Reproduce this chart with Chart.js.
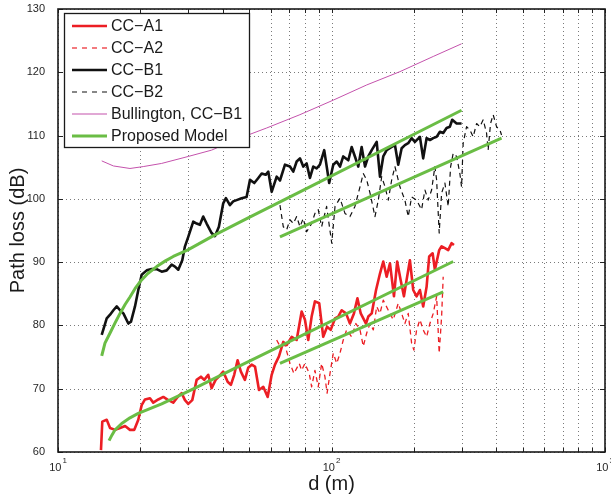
<!DOCTYPE html>
<html><head><meta charset="utf-8">
<script src="https://cdn.jsdelivr.net/npm/chart.js@4.4.0/dist/chart.umd.min.js"></script>
<style>html,body{margin:0;padding:0;background:#fff;overflow:hidden}canvas{display:block}</style>
</head><body>
<canvas id="c" width="611" height="497"></canvas>
<script>
// ---- tick definitions ----
const xTickValues = [10,20,30,40,50,60,70,80,90,100,200,300,400,500,600,700,800,900,1000];
const xMajorLabels = [[10,'10','1'],[100,'10','2'],[1000,'10','3']];
const yTickValues = [60,70,80,90,100,110,120,130];
const xTitle = 'd (m)';
const yTitle = 'Path loss (dB)';
const legendLabels = ['CC\u2212A1','CC\u2212A2','CC\u2212B1','CC\u2212B2','Bullington, CC\u2212B1','Proposed Model'];

// ---- measured series (distance m, path loss dB) ----
const a1_d = [14.36,14.52,15.07,15.50,16.17,16.86,17.59,18.33,19.01,19.66,20.23,20.80,21.69,22.30,23.26,24.27,25.31,26.39,27.39,28.32,29.12,29.94,30.97,32.13,33.31,34.25,35.42,36.45,37.70,38.75,40.19,41.71,42.87,44.08,45.35,46.63,48.23,49.59,51.07,52.52,54.31,56.31,58.43,60.43,62.13,64.25,66.63,68.56,71.50,74.58,77.77,79.97,82.22,84.60,86.99,90.18,93.27,96.37,99.32,103.0,105.9,108.9,113.0,116.8,120.8,124.4,127.9,133.7,136.3,140.3,145.5,150.4,154.6,159.1,163.6,169.2,173.8,178.9,184.0,188.2,193.5,199.0,204.7,210.5,216.4,222.7,227.6,234.3,238.8,247.6,252.7,259.8,267.1,274.9,280.3];
const a1_pl = [60.3,64.8,65.1,63.8,63.5,63.8,64.1,63.5,63.5,65.1,67.4,68.3,68.5,67.8,68.3,68.7,68.2,67.8,68.7,69.3,68.2,67.6,68.2,71.4,71.9,71.4,72.2,70.1,71.4,71.9,72.7,71.1,70.6,72.2,74.5,72.7,71.4,73.3,73.8,73.5,69.8,70.3,68.7,72.2,73.8,75.1,77.4,76.9,78.2,77.7,82.2,80.9,77.7,81.4,83.8,83.5,78.2,79.8,79.3,81.1,81.4,82.4,81.9,80.3,81.9,84.3,81.9,80.3,81.4,81.9,85.6,88.2,90.1,87.7,89.8,84.6,90.1,87.2,84.6,87.2,90.3,85.6,84.6,85.6,83.0,86.1,90.9,91.4,88.8,91.9,92.5,92.2,91.9,93.0,92.7];

const a2_d = [63.03,64.80,67.59,70.49,72.91,76.22,77.77,79.97,82.90,84.60,86.99,89.44,92.02,94.61,96.37,98.74,101.5,104.5,107.4,110.4,113.6,118.5,122.8,127.1,130.7,134.5,138.3,142.2,146.3,150.4,154.6,161.3,168.2,175.4,180.5,185.5,190.8,196.3,200.1,204.7,210.5,216.4,222.7,229.0,235.5,242.3,247.6,252.7,256.1];
const a2_pl = [77.7,76.7,76.9,74.0,72.4,74.0,72.9,74.0,72.4,70.3,72.9,70.3,74.0,71.9,69.3,72.4,75.6,74.0,75.6,77.7,79.3,78.2,80.3,79.3,76.7,78.8,80.3,79.3,83.0,81.9,84.0,82.4,80.9,83.5,81.9,80.3,81.9,77.2,76.1,79.3,80.9,79.3,78.2,80.3,81.9,84.6,75.6,81.4,87.7];

const b1_d = [14.45,15.07,15.50,15.94,16.40,16.86,17.34,18.08,18.49,19.12,19.66,20.23,21.10,22.00,22.95,23.94,24.97,26.04,26.77,27.53,28.47,29.12,29.94,31.23,32.13,33.03,33.96,34.95,36.45,37.48,38.75,40.19,41.11,42.51,43.71,44.98,46.91,48.92,50.35,52.21,54.00,55.56,57.46,58.74,60.43,63.03,64.80,67.59,70.49,72.48,74.58,76.67,78.83,81.12,83.40,85.75,88.24,90.71,94.06,98.08,101.5,104.5,107.4,110.4,115.2,118.5,121.8,125.3,128.9,132.6,136.3,140.3,146.3,150.4,154.6,159.1,166.0,170.6,175.4,180.5,185.5,190.8,196.3,201.8,210.5,216.4,222.7,229.0,235.5,242.3,249.1,256.1,263.5,271.0,276.3,286.7,298.9];
const b1_pl = [78.5,81.1,81.7,82.4,83.0,82.4,81.9,80.3,80.6,83.0,85.6,88.0,88.7,88.9,88.9,88.5,88.7,89.6,89.3,88.8,90.3,92.5,94.0,96.4,96.1,95.9,97.2,96.1,94.6,94.1,95.6,99.3,100.1,99.0,99.6,99.8,100.1,100.3,103.0,102.5,103.3,104.0,103.8,104.3,101.1,103.5,102.9,105.4,105.1,104.3,105.9,106.4,105.1,105.6,103.3,105.1,104.8,105.4,107.7,102.5,105.4,105.9,105.1,106.7,106.1,108.2,106.7,105.1,108.2,105.1,106.7,107.7,109.0,103.5,106.7,107.7,108.2,108.5,105.4,108.0,108.5,108.8,109.6,109.0,109.8,106.4,109.6,109.3,109.6,109.8,110.6,110.4,111.2,111.4,112.5,111.9,111.9];

const b2_d = [64.80,66.63,68.56,70.49,72.48,74.58,76.67,78.83,81.12,84.60,86.99,89.44,92.02,95.97,100.2,103.0,107.4,112.0,116.8,121.8,127.1,130.7,134.5,138.3,144.2,148.3,152.6,156.9,161.3,166.0,170.6,177.9,185.5,190.8,196.3,204.7,213.5,219.6,225.7,232.3,238.8,242.3,247.6,252.7,259.8,267.1,272.6,278.6,286.7,294.7,298.9,303.0,311.8,320.6,329.6,339.2,348.7,358.5,368.9,373.9,381.5,390.0,401.3,412.6,418.5];
const b2_pl = [99.0,95.6,95.1,96.7,96.1,97.2,95.6,96.9,94.8,96.1,97.7,98.3,95.6,98.8,93.0,98.8,100.1,97.7,97.2,98.8,101.9,104.0,103.0,100.9,97.2,99.8,103.5,101.9,99.8,103.0,105.1,101.9,99.8,97.2,100.3,99.8,98.3,101.4,99.8,101.4,105.1,103.0,94.6,100.9,102.5,98.8,105.1,107.2,106.7,104.0,101.9,108.8,111.4,110.9,109.8,111.9,111.4,112.5,110.4,107.7,111.9,113.3,111.4,110.9,110.1];

// ---- Bullington prediction for CC-B1 ----
const bull_d = [14.45,15.94,18.33,20.50,23.94,29.94,36.45,43.71,57.95,76.67,101.5,134.5,177.9,235.5,298.9];
const bull_pl = [106.0,105.2,104.8,105.1,105.6,106.7,107.7,109.2,111.2,113.3,115.6,118.0,120.1,122.5,124.5];

// ---- proposed model curves ----
const mA1_d = [15.37,15.76,16.17,17.10,18.33,19.66,23.94,31.68,45.59,278.6];
const mA1_pl = [61.8,62.7,63.5,64.5,65.4,66.1,67.6,70.1,73.5,90.1];
const mA2_d = [64.80,256.1];
const mA2_pl = [74.0,85.3];
const mB1_d = [14.45,14.85,15.50,16.17,16.86,17.59,18.33,19.12,19.94,21.30,22.95,24.70,26.39,29.73,37.48,49.59,76.67,298.9];
const mB1_pl = [75.2,77.2,78.8,80.4,81.9,83.3,84.5,85.8,86.9,88.2,89.3,90.2,90.9,91.9,94.3,97.0,101.1,114.0];
const mB2_d = [64.80,418.5];
const mB2_pl = [94.0,109.6];

// ---- styles ----
const RED = 'rgb(236,30,36)';
const GREEN = 'rgb(106,189,69)';
const PINK = 'rgb(196,82,172)';
const BLACK = '#111111';
const FONT = '"Liberation Sans", Arial, Helvetica, sans-serif';

function pts(d, p){ const n=Math.min(d.length,p.length); const out=[]; for(let i=0;i<n;i++) out.push({x:d[i],y:p[i]}); return out; }
function ds(label, d, p, color, width, dash, order){
  return {label, data: pts(d,p), borderColor: color, backgroundColor: color, borderWidth: width,
    borderDash: dash || [], pointRadius: 0, showLine: true, tension: 0, fill: false, order,
    borderJoinStyle: 'round', borderCapStyle: 'butt'};
}

const datasets = [
  ds('CC\u2212A1', a1_d, a1_pl, RED, 2.6, null, 5),
  ds('CC\u2212A2', a2_d, a2_pl, RED, 1.3, [5,4], 4),
  ds('CC\u2212B1', b1_d, b1_pl, BLACK, 2.6, null, 6),
  ds('CC\u2212B2', b2_d, b2_pl, BLACK, 1.2, [5,4], 7),
  ds('Bullington, CC\u2212B1', bull_d, bull_pl, PINK, 1, null, 3),
  ds('Proposed Model', mA1_d, mA1_pl, GREEN, 3, null, 1),
  ds('Proposed Model A2', mA2_d, mA2_pl, GREEN, 3, null, 1),
  ds('Proposed Model B1', mB1_d, mB1_pl, GREEN, 3, null, 1),
  ds('Proposed Model B2', mB2_d, mB2_pl, GREEN, 3, null, 1)
];

const legendItems = [
  {color: RED, width: 2.6, dash: []},
  {color: 'rgb(240,80,86)', width: 1.5, dash: [5,5]},
  {color: BLACK, width: 2.6, dash: []},
  {color: BLACK, width: 1.2, dash: [5,5]},
  {color: PINK, width: 1.2, dash: []},
  {color: GREEN, width: 3, dash: []}
];

const gridPlugin = {
  id: 'dottedGrid',
  beforeDatasetsDraw(chart){
    const {ctx, chartArea: a, scales: {x, y}} = chart;
    ctx.save();
    ctx.strokeStyle = '#7a7a7a'; ctx.lineWidth = 1; ctx.setLineDash([1, 3]);
    xTickValues.forEach(v => {
      const px = Math.round(x.getPixelForValue(v)) + 0.5;
      ctx.beginPath(); ctx.moveTo(px, a.bottom); ctx.lineTo(px, a.top); ctx.stroke();
    });
    yTickValues.forEach(v => {
      const py = Math.round(y.getPixelForValue(v)) + 0.5;
      ctx.beginPath(); ctx.moveTo(a.left, py); ctx.lineTo(a.right, py); ctx.stroke();
    });
    ctx.restore();
  }
};

const framePlugin = {
  id: 'frame',
  afterDraw(chart){
    const {ctx, chartArea: a, scales: {x, y}} = chart;
    ctx.save();
    // inward ticks
    ctx.strokeStyle = '#222'; ctx.lineWidth = 1;
    xTickValues.forEach(v => {
      const px = Math.round(x.getPixelForValue(v)) + 0.5;
      ctx.beginPath();
      ctx.moveTo(px, a.bottom); ctx.lineTo(px, a.bottom - 4);
      ctx.moveTo(px, a.top); ctx.lineTo(px, a.top + 4);
      ctx.stroke();
    });
    yTickValues.forEach(v => {
      const py = Math.round(y.getPixelForValue(v)) + 0.5;
      ctx.beginPath();
      ctx.moveTo(a.left, py); ctx.lineTo(a.left + 5, py);
      ctx.moveTo(a.right, py); ctx.lineTo(a.right - 5, py);
      ctx.stroke();
    });
    // box
    ctx.lineWidth = 1.6; ctx.strokeStyle = '#1a1a1a';
    ctx.strokeRect(a.left, a.top, a.right - a.left, a.bottom - a.top);
    // x labels with superscripts
    ctx.fillStyle = '#262626';
    ctx.textBaseline = 'alphabetic';
    xMajorLabels.forEach(([v, base, sup]) => {
      const px = x.getPixelForValue(v);
      ctx.font = '11px ' + FONT;
      const wb = ctx.measureText(base).width;
      ctx.font = '8px ' + FONT;
      const ws = ctx.measureText(sup).width;
      const x0 = px - (wb + ws + 1) / 2;
      ctx.font = '11px ' + FONT;
      ctx.textAlign = 'left';
      ctx.fillText(base, x0, a.bottom + 19);
      ctx.font = '8px ' + FONT;
      ctx.fillText(sup, x0 + wb + 1, a.bottom + 11);
    });
    // axis titles
    ctx.fillStyle = '#1a1a1a';
    ctx.font = '20px ' + FONT;
    ctx.textAlign = 'center';
    ctx.fillText(xTitle, (a.left + a.right) / 2, 490);
    ctx.save();
    ctx.translate(23.5, (a.top + a.bottom) / 2);
    ctx.rotate(-Math.PI / 2);
    ctx.fillText(yTitle, 0, 0);
    ctx.restore();
    // legend
    const lx = 64.5, ly = 13.5, lw = 185, lh = 134;
    ctx.fillStyle = '#fff';
    ctx.fillRect(lx, ly, lw, lh);
    ctx.lineWidth = 1.3; ctx.strokeStyle = '#1a1a1a';
    ctx.strokeRect(lx, ly, lw, lh);
    ctx.font = '16px ' + FONT;
    ctx.textAlign = 'left';
    ctx.textBaseline = 'middle';
    legendLabels.forEach((t, i) => {
      const rowY = 26 + i * 22;
      const it = legendItems[i];
      ctx.save();
      ctx.strokeStyle = it.color; ctx.lineWidth = it.width; ctx.setLineDash(it.dash);
      ctx.beginPath(); ctx.moveTo(72, rowY); ctx.lineTo(107, rowY); ctx.stroke();
      ctx.restore();
      ctx.fillStyle = '#1a1a1a';
      ctx.fillText(t, 111, rowY + 1);
    });
    ctx.restore();
  }
};

new Chart(document.getElementById('c'), {
  type: 'scatter',
  data: { datasets },
  options: {
    responsive: false,
    animation: false,
    devicePixelRatio: 1,
    layout: { padding: { top: 9, right: 6, left: 0, bottom: 0 } },
    plugins: { legend: { display: false }, tooltip: { enabled: false } },
    elements: { point: { radius: 0 } },
    scales: {
      x: {
        type: 'logarithmic', min: 10, max: 1000,
        afterBuildTicks: s => { s.ticks = xTickValues.map(v => ({ value: v })); },
        afterFit: s => { s.height = 45; s.paddingLeft = 0; s.paddingRight = 0; },
        ticks: { display: false, autoSkip: false },
        grid: { display: false },
        border: { display: false }
      },
      y: {
        type: 'linear', min: 60, max: 130,
        afterBuildTicks: s => { s.ticks = yTickValues.map(v => ({ value: v })); },
        afterFit: s => { s.width = 58; s.paddingTop = 0; s.paddingBottom = 0; },
        ticks: { color: '#262626', padding: 5, font: { family: FONT, size: 11 } },
        grid: { display: false },
        border: { display: false }
      }
    }
  },
  plugins: [gridPlugin, framePlugin]
});
</script>
</body></html>
